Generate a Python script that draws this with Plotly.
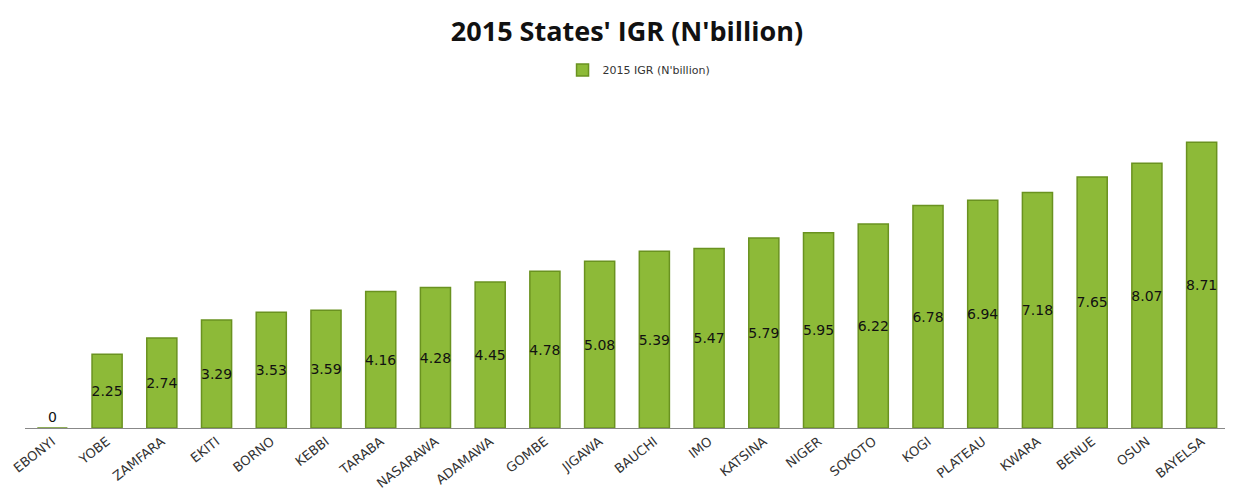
import plotly.graph_objects as go

# 2015 internally generated revenue per state (N'billion)
states = ['EBONYI', 'YOBE', 'ZAMFARA', 'EKITI', 'BORNO', 'KEBBI', 'TARABA', 'NASARAWA',
          'ADAMAWA', 'GOMBE', 'JIGAWA', 'BAUCHI', 'IMO', 'KATSINA', 'NIGER', 'SOKOTO',
          'KOGI', 'PLATEAU', 'KWARA', 'BENUE', 'OSUN', 'BAYELSA']
igr = [0, 2.25, 2.74, 3.29, 3.53, 3.59, 4.16, 4.28, 4.45, 4.78, 5.08, 5.39, 5.47,
       5.79, 5.95, 6.22, 6.78, 6.94, 7.18, 7.65, 8.07, 8.71]

labels = ['0' if v == 0 else '%.2f' % v for v in igr]
positions = ['outside' if v == 0 else 'inside' for v in igr]

fig = go.Figure()
fig.add_trace(go.Bar(
    x=states, y=igr, name="2015 IGR (N'billion)",
    text=labels, textposition=positions, insidetextanchor='middle',
    textangle=0, cliponaxis=False, constraintext='none',
    textfont=dict(family='DejaVu Sans', size=14, color='#111111'),
    marker=dict(color='#8DBA38', line=dict(color='#6A9220', width=1.5)),
))

# the page body has an 8px default margin, so margins are shifted to compensate
fig.update_layout(
    title=dict(text="2015 States' IGR (N'billion)", x=0.502, y=0.952, xanchor='center', yanchor='middle',
               xref='container', yref='container',
               font=dict(family='Open Sans', size=27, color='#111111', weight='bold')),
    width=1233, height=500,
    margin=dict(l=17, r=12, t=42, b=80, autoexpand=False),
    paper_bgcolor='white', plot_bgcolor='white',
    bargap=0.45,
    showlegend=True,
    legend=dict(orientation='h', x=0.51, xanchor='center', y=0.947, yanchor='middle',
                font=dict(family='DejaVu Sans', size=11, color='#333333'),
                bgcolor='rgba(0,0,0,0)'),
    xaxis=dict(tickangle=-38, showline=True, linecolor='#888888', linewidth=1, automargin=False,
               ticks='', tickfont=dict(family='DejaVu Sans', size=13, color='#333333')),
    yaxis=dict(range=[0, 11.52], visible=False),
)

fig.write_html("out.html")
